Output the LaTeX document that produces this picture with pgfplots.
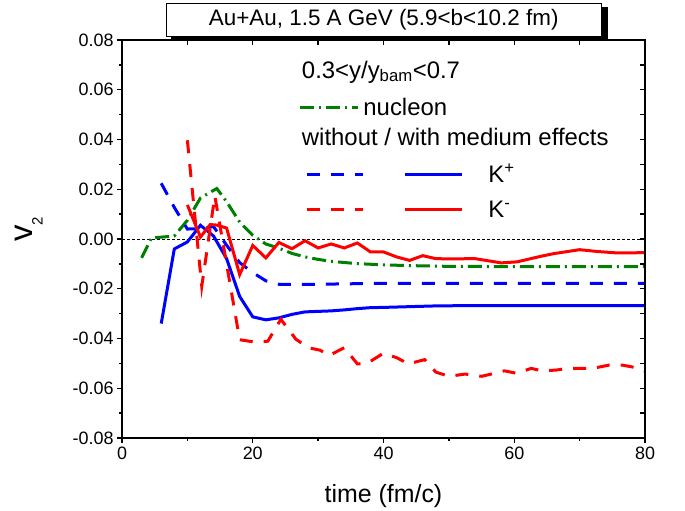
\documentclass[border=0pt]{standalone}
\usepackage{fontspec}
\setmainfont{Liberation Sans}
\usepackage{pgfplots}
\pgfplotsset{compat=1.18}
\definecolor{kblue}{RGB}{0,0,255}
\definecolor{kred}{RGB}{255,0,0}
\definecolor{ngreen}{RGB}{0,128,0}
\tikzset{
  dsh/.style={line width=3bp, dash pattern=on 13bp off 11bp},
  dd/.style={line width=3bp, dash pattern=on 14bp off 5bp on 2bp off 5bp},
  sol/.style={line width=3bp},
}
\begin{document}
\begin{tikzpicture}
\pgfplotsset{
  common/.style={
    width=523bp, height=398bp, scale only axis,
    xmin=0, xmax=80, ymin=-0.08, ymax=0.08,
    scaled y ticks=false, scaled x ticks=false,
    xtick={0,20,40,60,80}, minor xtick={10,30,50,70},
    ytick={-0.08,-0.06,-0.04,-0.02,0,0.02,0.04,0.06,0.08},
    minor ytick={-0.07,-0.05,-0.03,-0.01,0.01,0.03,0.05,0.07},
    axis line style={line width=1.3bp},
    tick style={black, line width=1.3bp},
  },
}
\begin{axis}[common,
  xtick pos=left, ytick pos=left, tick align=outside,
  major tick length=5bp, minor tick length=3bp,
  ticklabel style={font=\fontsize{18}{21}\selectfont},
  /pgf/number format/assume math mode=true,
  yticklabel style={/pgf/number format/fixed, /pgf/number format/fixed zerofill, /pgf/number format/precision=2},
  xlabel={\fontsize{25}{30}\selectfont time (fm/c)},
  xlabel style={at={(axis description cs:0.5,-0.1633)}, anchor=base, inner sep=0pt},
  ylabel={\fontsize{33}{36}\selectfont v\raisebox{-10bp}{\fontsize{15}{15}\selectfont 2}},
  ylabel style={at={(axis description cs:-0.1707,0.524)}, anchor=base, inner sep=0pt},
]
\addplot[black, line width=0.8bp, dash pattern=on 3bp off 2bp] coordinates {(0,0) (80,0)};
% nucleon
\addplot[ngreen, dd] coordinates {
(3,-0.0076)(4.5,0.0004)(8,0.0012)(10,0.0075)(12,0.0165)(14.5,0.0203)(16,0.0150)(18,0.0068)(20,0.0015)(22,-0.0020)(24,-0.0037)(26,-0.0058)(28,-0.0072)(30,-0.0082)(32,-0.0090)(36,-0.0099)(40,-0.0104)(44,-0.0107)(50,-0.0110)(60,-0.0111)(70,-0.0111)(80,-0.0111)};
% K+ without
\addplot[kblue, dsh] coordinates {
(6,0.0224)(8,0.0127)(10,0.0040)(12,0.0042)(14,0.0050)(16,-0.0025)(18,-0.0095)(20,-0.0135)(22,-0.0168)(24,-0.0182)(26,-0.0183)(30,-0.0182)(40,-0.0178)(50,-0.0178)(60,-0.0178)(70,-0.0178)(80,-0.0178)};
% K+ with
\addplot[kblue, sol] coordinates {
(6,-0.0340)(8,-0.0040)(10,-0.0012)(12,0.0055)(14,0.0012)(16,-0.0079)(18,-0.0231)(20,-0.0313)(22,-0.0325)(24,-0.0317)(26,-0.0303)(28,-0.0293)(30,-0.0291)(32,-0.0289)(34,-0.0285)(36,-0.0280)(38,-0.0276)(40,-0.0275)(44,-0.0272)(48,-0.0269)(52,-0.0268)(60,-0.0268)(70,-0.0268)(80,-0.0268)};
% K- without
\addplot[kred, dsh] coordinates {
(10,0.0397)(12.2,-0.0190)(14.2,0.0173)(18,-0.0405)(20,-0.0413)(22.3,-0.0411)(24.3,-0.0323)(26.6,-0.0403)(28.5,-0.0437)(30.3,-0.0447)(31.7,-0.0468)(34,-0.0437)(36,-0.0502)(37.5,-0.0500)(40,-0.0459)(42,-0.0477)(43.8,-0.0502)(46.3,-0.0485)(48,-0.0535)(50,-0.0552)(52.5,-0.0543)(55,-0.0552)(56.8,-0.0541)(58.5,-0.0530)(60.4,-0.0540)(62.6,-0.0520)(64.2,-0.0530)(66.4,-0.0527)(68.2,-0.0520)(72,-0.0520)(74.5,-0.0507)(76.5,-0.0507)(78,-0.0514)(80,-0.0530)};
% K- with
\addplot[kred, sol] coordinates {
(10,0.0137)(12,0.0008)(13.5,0.0058)(14.5,0.0056)(16,0.0044)(18,-0.0143)(20,-0.0026)(22,-0.0076)(24,-0.0014)(26,-0.0039)(28,-0.0007)(30,-0.0036)(32,-0.0020)(34,-0.0036)(36,-0.0016)(38,-0.0052)(40,-0.0052)(42,-0.0072)(44,-0.0086)(46,-0.0067)(48,-0.0079)(50,-0.0080)(54,-0.0079)(58,-0.0096)(60.4,-0.0092)(64,-0.0070)(66,-0.0059)(70,-0.0043)(72.6,-0.0050)(75.7,-0.0056)(80,-0.0055)};
% legend
\begin{scope}[every node/.style={anchor=base west, inner sep=0pt, font=\fontsize{24}{28}\selectfont}]
\node at (axis cs:27.5,0.0647) {0.3<y/y\textsubscript{bam}<0.7};
\draw[ngreen, dd] (axis cs:27.2,0.0527) -- (axis cs:36.1,0.0527);
\node at (axis cs:36.9,0.0496) {nucleon};
\node at (axis cs:27.5,0.0376) {without / with medium effects};
\draw[kblue, dsh] (axis cs:28.25,0.026) -- (axis cs:36.9,0.026);
\draw[kblue, sol] (axis cs:43.3,0.026) -- (axis cs:52,0.026);
\node at (axis cs:56,0.0228) {K\textsuperscript{+}};
\draw[kred, dsh] (axis cs:28.25,0.0119) -- (axis cs:36.9,0.0119);
\draw[kred, sol] (axis cs:43.3,0.0119) -- (axis cs:52,0.0119);
\node at (axis cs:56,0.0085) {K\textsuperscript{-}};
\end{scope}
\coordinate (T) at (rel axis cs:0.5,1);
\coordinate (LL) at (rel axis cs:0,0);
\coordinate (UR) at (rel axis cs:1,1);
\end{axis}
\begin{axis}[common,
  xtick pos=right, ytick pos=right, tick align=inside,
  major tick length=5bp, minor tick length=5bp,
  xticklabels={}, yticklabels={}]
\end{axis}
\fill[black] ([shift={(-212bp,0bp)}]T) rectangle ([shift={(224bp,33.4bp)}]T);
\draw[fill=white, line width=0.8bp] ([shift={(-217.5bp,3.6bp)}]T) rectangle ([shift={(218bp,37bp)}]T);
\node[font=\fontsize{22.5}{26}\selectfont, inner sep=0pt] at ([shift={(0.25bp,20.3bp)}]T) {Au+Au, 1.5 A GeV (5.9<b<10.2 fm)};
\path ([shift={(-122bp,-73bp)}]LL) rectangle ([shift={(40bp,40bp)}]UR);
\end{tikzpicture}
\end{document}
